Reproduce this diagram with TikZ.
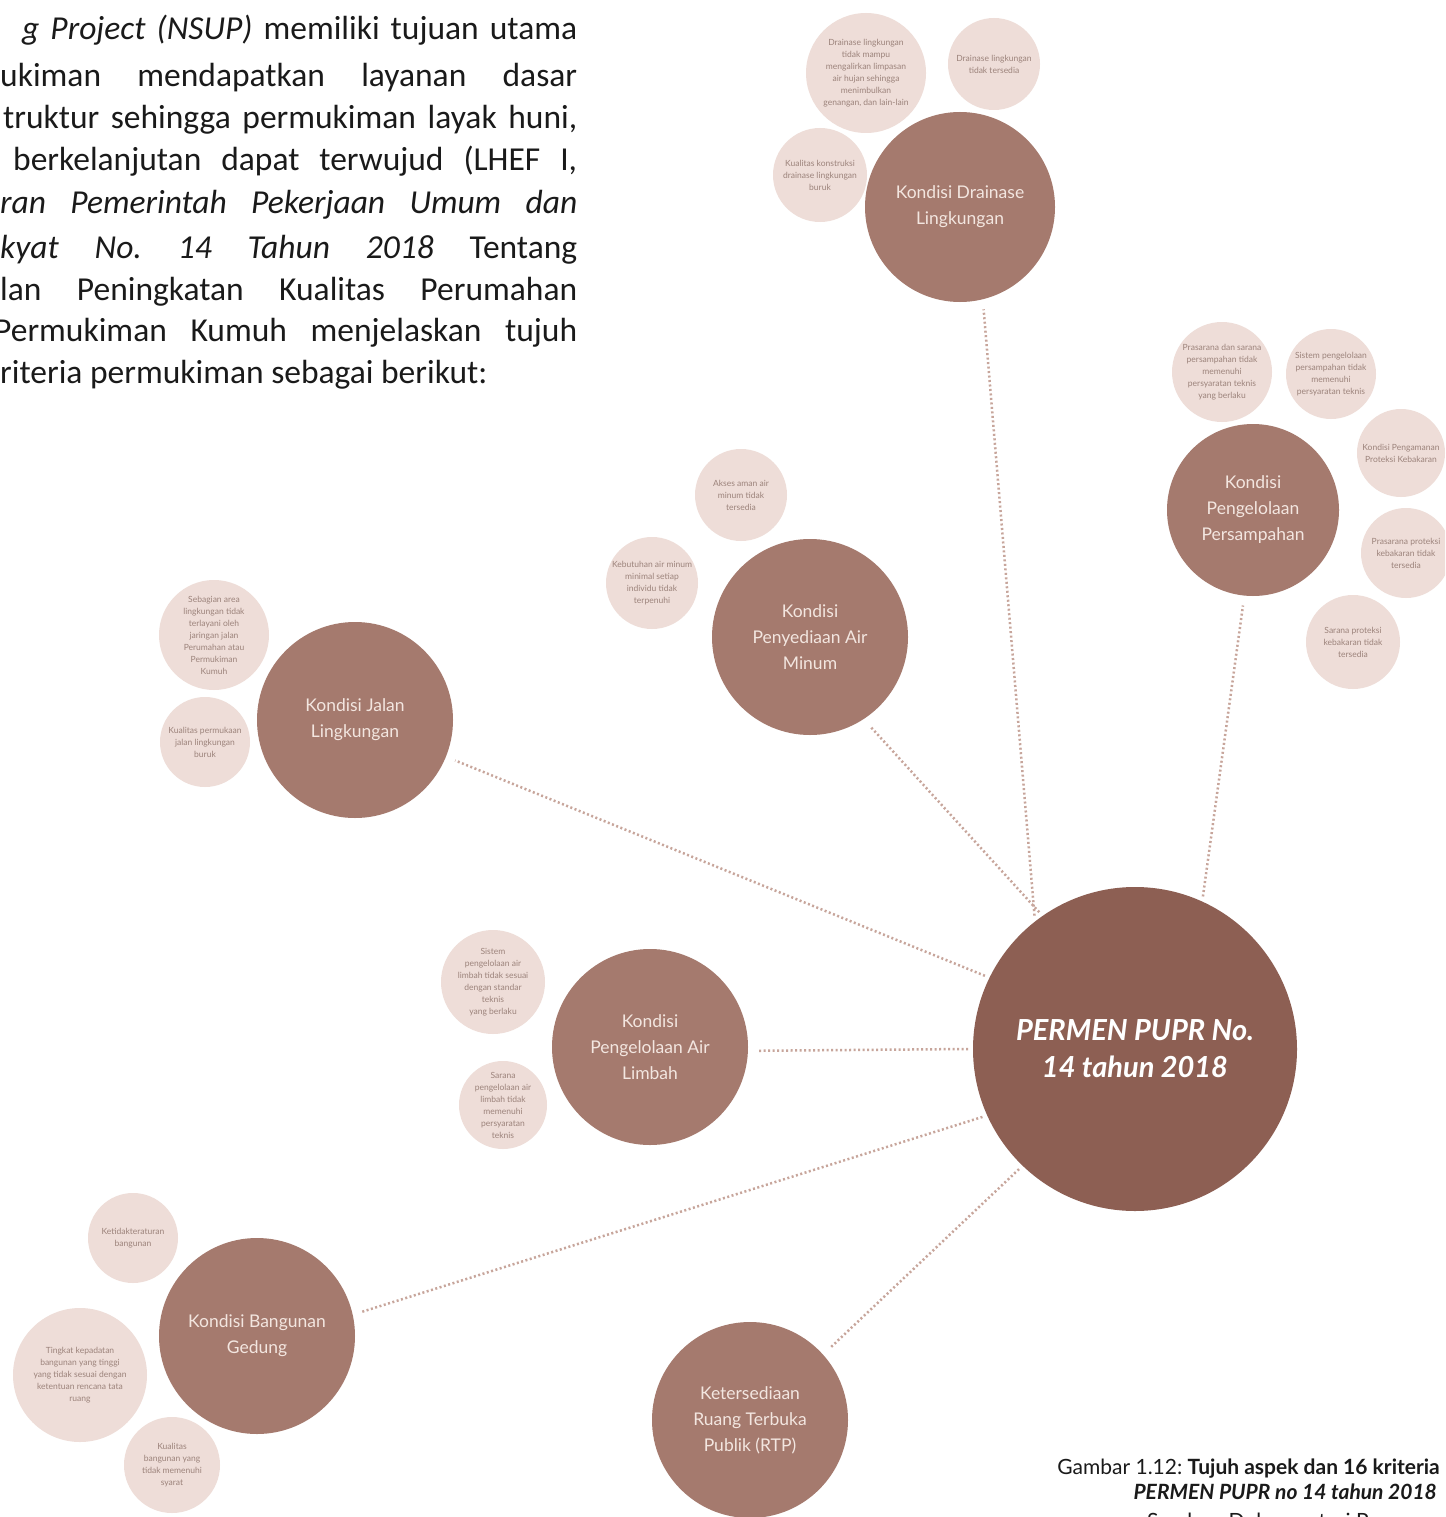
\documentclass[tikz,border=0pt]{standalone}
\usepackage{fontspec}
\setmainfont{Lato}
\newfontfamily\parafont{Carlito}
\definecolor{pusat}{HTML}{8D5F53}
\definecolor{aspek}{HTML}{A57A6E}
\definecolor{kriteria}{HTML}{EEDDD8}
\definecolor{tekskrit}{HTML}{9C837B}
\definecolor{teksaspek}{HTML}{F3E6E0}
\definecolor{garis}{HTML}{C7A59B}
\definecolor{tekshitam}{HTML}{1A1A1A}
\frenchspacing

\begin{document}
\begin{tikzpicture}[x=1pt, y=-1pt,
  pusatc/.style={circle, fill=pusat, text=white, minimum size=324pt, inner sep=0pt, outer sep=5pt,
    align=center, font=\fontsize{29}{37}\selectfont\bfseries\itshape},
  aspekc/.style={circle, fill=aspek, text=teksaspek, minimum size=#1, inner sep=0pt, outer sep=10pt,
    align=center, font=\fontsize{17.5}{26}\selectfont},
  kritc/.style={circle, fill=kriteria, text=tekskrit, minimum size=#1, inner sep=0pt,
    align=center, font=\fontsize{8.5}{12}\selectfont},
  hubung/.style={garis, line width=2.5pt, dash pattern=on 2pt off 2.5pt},
  baris/.style={anchor=base west, inner sep=0pt, text=tekshitam, font=\parafont\fontsize{33.5}{42}\selectfont},
  keterangan/.style={anchor=base east, inner sep=0pt, text=tekshitam, font=\fontsize{21}{25}\selectfont}]

  \useasboundingbox (0,0) rectangle (1445,1517);
  \clip (0,0) rectangle (1445,1517);
  \fill[white] (0,0) rectangle (1445,1517);

  % paragraf di kiri atas
  \node[baris] (p1) at (22,40) {\makebox[555pt][s]{{\itshape g Project (NSUP)} memiliki tujuan utama}};
  \node[baris] (p2) at (0,87) {\makebox[577pt][s]{ukiman mendapatkan layanan dasar}};
  \node[baris] (p3) at (3,129) {\makebox[574pt][s]{truktur sehingga permukiman layak huni,}};
  \node[baris] (p4) at (13,171) {\makebox[564pt][s]{berkelanjutan dapat terwujud (LHEF I,}};
  \node[baris] (p5) at (0,213) {\makebox[577pt][s]{\itshape ran Pemerintah Pekerjaan Umum dan}};
  \node[baris] (p6) at (0,258) {\makebox[577pt][s]{{\itshape kyat No. 14 Tahun 2018} Tentang}};
  \node[baris] (p7) at (0,300) {\makebox[577pt][s]{lan Peningkatan Kualitas Perumahan}};
  \node[baris] (p8) at (-6,341) {\makebox[583pt][s]{Permukiman Kumuh menjelaskan tujuh}};
  \node[baris] (p9) at (0,383) {riteria permukiman sebagai berikut:};

  % lingkaran kriteria
  \node[kritc=120pt] (dra1) at (866,73) {Drainase lingkungan\\tidak mampu\\mengalirkan limpasan\\air hujan sehingga\\menimbulkan\\genangan, dan lain-lain};
  \node[kritc=92pt] (dra2) at (994,64) {Drainase lingkungan\\tidak tersedia};
  \node[kritc=94pt] (dra3) at (820,175) {Kualitas konstruksi\\drainase lingkungan\\buruk};

  \node[kritc=100pt] (sam1) at (1222,372) {Prasarana dan sarana\\persampahan tidak\\memenuhi\\persyaratan teknis\\yang berlaku};
  \node[kritc=90pt] (sam2) at (1331,374) {Sistem pengelolaan\\persampahan tidak\\memenuhi\\persyaratan teknis};
  \node[kritc=88pt] (sam3) at (1401,453) {Kondisi Pengamanan\\Proteksi Kebakaran};
  \node[kritc=90pt] (sam4) at (1406,553) {Prasarana proteksi\\kebakaran tidak\\tersedia};
  \node[kritc=94pt] (sam5) at (1353,642) {Sarana proteksi\\kebakaran tidak\\tersedia};

  \node[kritc=92pt] (amin1) at (741,495) {Akses aman air\\minum tidak\\tersedia};
  \node[kritc=92pt] (amin2) at (652,583) {Kebutuhan air minum\\minimal setiap\\individu tidak\\terpenuhi};

  \node[kritc=110pt] (jln1) at (214,635) {Sebagian area\\lingkungan tidak\\terlayani oleh\\jaringan jalan\\Perumahan atau\\Permukiman\\Kumuh};
  \node[kritc=90pt] (jln2) at (205,742) {Kualitas permukaan\\jalan lingkungan\\buruk};

  \node[kritc=104pt] (lmb1) at (493,982) {Sistem\\pengelolaan air\\limbah tidak sesuai\\dengan standar\\teknis\\yang berlaku};
  \node[kritc=88pt] (lmb2) at (503,1105) {Sarana\\pengelolaan air\\limbah tidak\\memenuhi\\persyaratan\\teknis};

  \node[kritc=90pt] (bgn1) at (133,1238) {Ketidakteraturan\\bangunan};
  \node[kritc=134pt] (bgn2) at (80,1375) {Tingkat kepadatan\\bangunan yang tinggi\\yang tidak sesuai dengan\\ketentuan rencana tata\\ruang};
  \node[kritc=96pt] (bgn3) at (172,1465) {Kualitas\\bangunan yang\\tidak memenuhi\\syarat};

  % lingkaran aspek
  \node[aspekc=190pt] (dra) at (960,207) {Kondisi Drainase\\Lingkungan};
  \node[aspekc=172pt] (sam) at (1253,510) {Kondisi\\Pengelolaan\\Persampahan};
  \node[aspekc=196pt] (amin) at (810,637) {Kondisi\\Penyediaan Air\\Minum};
  \node[aspekc=196pt] (jln) at (355,720) {Kondisi Jalan\\Lingkungan};
  \node[aspekc=196pt] (lmb) at (650,1047) {Kondisi\\Pengelolaan Air\\Limbah};
  \node[aspekc=196pt] (bgn) at (257,1336) {Kondisi Bangunan\\Gedung};
  \node[aspekc=196pt] (rtp) at (750,1420) {Ketersediaan\\Ruang Terbuka\\Publik (RTP)};

  \node[pusatc] (cen) at (1135,1049) {PERMEN PUPR No.\\14 tahun 2018};

  % garis titik-titik
  \draw[hubung] (cen.127) -- (dra.283);
  \draw[hubung] (cen.125) -- (amin.304);
  \draw[hubung] (cen.66) -- (sam.264);
  \draw[hubung] (cen.154) -- (jln.338);
  \draw[hubung] (cen.180) -- (lmb.358);
  \draw[hubung] (cen.204) -- (bgn.13);
  \draw[hubung] (cen.226) -- (rtp.42);

  % keterangan gambar
  \node[keterangan] (ket1) at (1440,1474) {Gambar 1.12: \textbf{Tujuh aspek dan 16 kriteria}};
  \node[keterangan, font=\fontsize{21}{25}\selectfont\bfseries\itshape] (ket2) at (1437,1499) {PERMEN PUPR no 14 tahun 2018};
  \node[keterangan] (ket3) at (1452,1528) {Sumber: Dokumentasi Perencana};

\end{tikzpicture}
\end{document}
